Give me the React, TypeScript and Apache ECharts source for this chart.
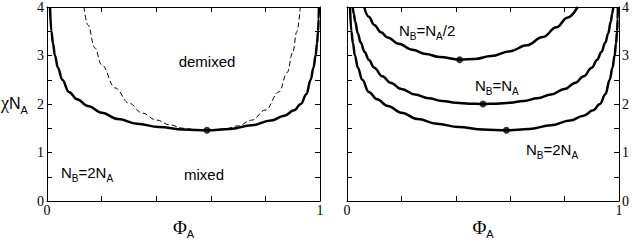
import React, { useEffect, useRef } from "react";
import * as echarts from "echarts";

// Binodal for N_B = 2 N_A (used in both panels)
const phiBinodalNB2 = [0.011, 0.016, 0.022, 0.029, 0.04, 0.056, 0.08, 0.11, 0.15, 0.2, 0.26, 0.33, 0.41, 0.5, 0.586, 0.67, 0.75, 0.82, 0.87, 0.905, 0.93, 0.95, 0.966, 0.976, 0.984, 0.989, 0.993, 0.995, 0.996];
const chiBinodalNB2 = [4.0, 3.5, 3.25, 3.0, 2.75, 2.5, 2.25, 2.1, 1.96, 1.82, 1.69, 1.595, 1.525, 1.475, 1.457, 1.485, 1.56, 1.66, 1.76, 1.87, 2.0, 2.2, 2.5, 2.75, 3.0, 3.25, 3.5, 3.75, 4.0];

// Spinodal for N_B = 2 N_A (dashed, left panel)
const phiSpinodalNB2 = [0.135, 0.15, 0.175, 0.2, 0.25, 0.3, 0.35, 0.4, 0.45, 0.5, 0.55, 0.586, 0.65, 0.7, 0.75, 0.8, 0.85, 0.88, 0.9, 0.915, 0.928];
const chiSpinodalNB2 = [4.0, 3.63, 3.16, 2.81, 2.33, 2.02, 1.81, 1.67, 1.57, 1.5, 1.465, 1.457, 1.484, 1.548, 1.667, 1.875, 2.25, 2.65, 3.06, 3.49, 4.0];

// Binodal for N_B = N_A
const phiBinodalNB1 = [0.021, 0.025, 0.03, 0.04, 0.05, 0.065, 0.08, 0.1, 0.13, 0.16, 0.2, 0.25, 0.3, 0.35, 0.4, 0.45, 0.5, 0.55, 0.6, 0.65, 0.7, 0.75, 0.8, 0.84, 0.87, 0.9, 0.92, 0.935, 0.95, 0.96, 0.97, 0.975, 0.979];
const chiBinodalNB1 = [4.0, 3.86, 3.7, 3.45, 3.27, 3.07, 2.91, 2.75, 2.57, 2.44, 2.31, 2.197, 2.118, 2.063, 2.027, 2.007, 2.0, 2.007, 2.027, 2.063, 2.118, 2.197, 2.31, 2.44, 2.57, 2.75, 2.91, 3.07, 3.27, 3.45, 3.7, 3.86, 4.0];

// Binodal for N_B = N_A / 2
const phiBinodalNBHalf = [0.063, 0.08, 0.1, 0.125, 0.15, 0.19, 0.24, 0.29, 0.34, 0.414, 0.47, 0.53, 0.6, 0.66, 0.72, 0.77, 0.81, 0.848];
const chiBinodalNBHalf = [4.0, 3.8, 3.63, 3.48, 3.37, 3.24, 3.12, 3.03, 2.97, 2.914, 2.93, 2.99, 3.09, 3.21, 3.38, 3.58, 3.78, 4.0];

// Critical points: N_B = 2N_A, N_A, N_A/2
const criticalPhi = [0.586, 0.5, 0.414];
const criticalChi = [1.457, 2.0, 2.914];

const xMin = 0, xMax = 1, xInterval = 1;
const yMin = 0, yMax = 4, yInterval = 1;

const sans = "'Liberation Sans', Arial, Helvetica, sans-serif";
const serif = "'Liberation Serif', 'Times New Roman', serif";

const pairs = (xs: number[], ys: number[]) => xs.map((x, i) => [x, ys[i]]);

const richSub = {
  n: { fontSize: 15, fontFamily: sans, fill: "#000" },
  s: { fontSize: 10, fontFamily: sans, fill: "#000", padding: [12, 0, 0, 0] },
};

function xAxisDef(grid: number, pos: string, showLabel: boolean) {
  return {
    type: "value",
    gridIndex: grid,
    position: pos,
    min: xMin,
    max: xMax,
    interval: xInterval,
    axisLine: { show: true, onZero: false, lineStyle: { color: "#000", width: 1 } },
    axisTick: { show: true, inside: true, length: 5, lineStyle: { color: "#000", width: 1 } },
    minorTick: { show: true, splitNumber: 5, length: 5, lineStyle: { color: "#000", width: 1 } },
    splitLine: { show: false },
    minorSplitLine: { show: false },
    axisLabel: { show: showLabel, color: "#000", fontFamily: serif, fontSize: 14, margin: 2 },
  };
}

function yAxisDef(grid: number, pos: string, showLabel: boolean) {
  return {
    type: "value",
    gridIndex: grid,
    position: pos,
    min: yMin,
    max: yMax,
    interval: yInterval,
    axisLine: { show: true, onZero: false, lineStyle: { color: "#000", width: 1 } },
    axisTick: { show: true, inside: true, length: 5, lineStyle: { color: "#000", width: 1 } },
    minorTick: { show: true, splitNumber: 2, length: 5, lineStyle: { color: "#000", width: 1 } },
    splitLine: { show: false },
    minorSplitLine: { show: false },
    axisLabel: { show: showLabel, color: "#000", fontFamily: serif, fontSize: 14, margin: 3 },
  };
}

const solid = { color: "#000", width: 2.5 };

function lineSeries(xi: number, yi: number, xs: number[], ys: number[], style: any) {
  return {
    type: "line",
    xAxisIndex: xi,
    yAxisIndex: yi,
    data: pairs(xs, ys),
    symbol: "none",
    showSymbol: false,
    smooth: 0.4,
    smoothMonotone: "x",
    lineStyle: style,
    silent: true,
  };
}

function label(x: number, y: number, text: string, align: string, rich: any) {
  return {
    type: "text",
    x,
    y,
    style: { text, align, verticalAlign: "middle", rich, fill: "#000" },
  };
}

export default function App() {
  const ref = useRef<HTMLDivElement>(null);
  useEffect(() => {
    if (!ref.current) return;
    const chart = echarts.init(ref.current, undefined, { renderer: "svg" });
    const option: any = {
      animation: false,
      backgroundColor: "#fff",
      grid: [
        { left: 47, top: 6, width: 273, height: 195 },
        { left: 347, top: 6, width: 272, height: 195 },
      ],
      xAxis: [
        xAxisDef(0, "bottom", true),
        xAxisDef(0, "top", false),
        xAxisDef(1, "bottom", true),
        xAxisDef(1, "top", false),
      ],
      yAxis: [
        yAxisDef(0, "left", true),
        yAxisDef(0, "right", false),
        yAxisDef(1, "right", true),
        yAxisDef(1, "left", false),
      ],
      series: [
        lineSeries(0, 0, phiSpinodalNB2, chiSpinodalNB2, { color: "#000", width: 1, type: [5, 3] }),
        lineSeries(0, 0, phiBinodalNB2, chiBinodalNB2, solid),
        {
          type: "scatter",
          xAxisIndex: 0,
          yAxisIndex: 0,
          data: [[criticalPhi[0], criticalChi[0]]],
          symbolSize: 7,
          itemStyle: { color: "#000" },
          silent: true,
        },
        lineSeries(2, 2, phiBinodalNBHalf, chiBinodalNBHalf, solid),
        lineSeries(2, 2, phiBinodalNB1, chiBinodalNB1, solid),
        lineSeries(2, 2, phiBinodalNB2, chiBinodalNB2, solid),
        {
          type: "scatter",
          xAxisIndex: 2,
          yAxisIndex: 2,
          data: pairs(criticalPhi, criticalChi),
          symbolSize: 7,
          itemStyle: { color: "#000" },
          silent: true,
        },
      ],
      graphic: [
        label(207, 61, "{n|demixed}", "center", richSub),
        label(204, 174, "{n|mixed}", "center", richSub),
        label(61, 172, "{n|N}{s|B}{n|=2N}{s|A}", "left", richSub),
        label(399, 30, "{n|N}{s|B}{n|=N}{s|A}{n|/2}", "left", richSub),
        label(475, 85, "{n|N}{s|B}{n|=N}{s|A}", "left", richSub),
        label(526, 149, "{n|N}{s|B}{n|=2N}{s|A}", "left", richSub),
        label(1, 103, "{g|χ}{n|N}{s|A}", "left", {
          g: { fontSize: 18, fontFamily: serif, fill: "#000" },
          n: { fontSize: 16, fontFamily: sans, fill: "#000" },
          s: { fontSize: 11, fontFamily: sans, fill: "#000", padding: [14, 0, 0, 0] },
        }),
        label(183.5, 227, "{g|Φ}{s|A}", "center", {
          g: { fontSize: 19, fontFamily: serif, fill: "#000" },
          s: { fontSize: 11, fontFamily: sans, fill: "#000", padding: [14, 0, 0, 0] },
        }),
        label(483, 227, "{g|Φ}{s|A}", "center", {
          g: { fontSize: 19, fontFamily: serif, fill: "#000" },
          s: { fontSize: 11, fontFamily: sans, fill: "#000", padding: [14, 0, 0, 0] },
        }),
      ],
    };
    chart.setOption(option);
    return () => chart.dispose();
  }, []);
  return (
    <div
      ref={ref}
      style={{ position: "fixed", left: 0, top: 0, width: 632, height: 240, background: "#fff" }}
    />
  );
}
